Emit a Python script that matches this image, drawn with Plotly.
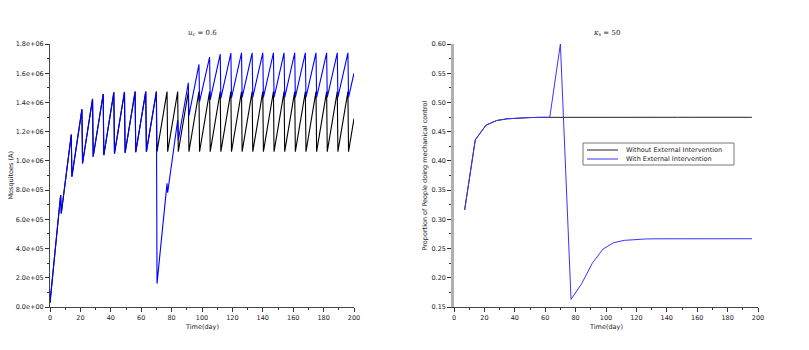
import plotly.graph_objects as go

# ---- left panel: mosquitoes (A), u_c = 0.6 ----
spray_days = [7 * k for k in range(1, 29)]  # 7, 14, ..., 196

a_start = 0.03e6
a_end_without = 1.29e6
a_end_with = 1.60e6

peaks_without = [0.767e6, 1.180e6, 1.353e6, 1.424e6, 1.458e6, 1.469e6, 1.472e6,
                 1.474e6, 1.474e6, 1.474e6, 1.474e6, 1.474e6, 1.474e6, 1.474e6,
                 1.474e6, 1.474e6, 1.474e6, 1.474e6, 1.474e6, 1.474e6, 1.474e6,
                 1.474e6, 1.474e6, 1.474e6, 1.474e6, 1.474e6, 1.474e6, 1.474e6]
troughs_without = [0.640e6, 0.892e6, 0.983e6, 1.029e6, 1.040e6, 1.050e6, 1.055e6,
                   1.060e6, 1.062e6, 1.063e6, 1.063e6, 1.063e6, 1.063e6, 1.063e6,
                   1.063e6, 1.063e6, 1.063e6, 1.063e6, 1.063e6, 1.063e6, 1.063e6,
                   1.063e6, 1.063e6, 1.063e6, 1.063e6, 1.063e6, 1.063e6, 1.063e6]

peaks_with = [0.767e6, 1.180e6, 1.353e6, 1.424e6, 1.458e6, 1.469e6, 1.472e6,
              1.474e6, 1.474e6, 1.474e6, 0.846e6, 1.280e6, 1.535e6, 1.660e6,
              1.710e6, 1.730e6, 1.738e6, 1.740e6, 1.740e6, 1.740e6, 1.740e6,
              1.740e6, 1.740e6, 1.740e6, 1.740e6, 1.740e6, 1.740e6, 1.740e6]
troughs_with = [0.640e6, 0.892e6, 0.983e6, 1.029e6, 1.040e6, 1.050e6, 1.055e6,
                1.060e6, 1.062e6, 0.160e6, 0.782e6, 1.140e6, 1.310e6, 1.405e6,
                1.417e6, 1.428e6, 1.432e6, 1.435e6, 1.435e6, 1.435e6, 1.435e6,
                1.435e6, 1.435e6, 1.435e6, 1.435e6, 1.435e6, 1.435e6, 1.435e6]

a_ticks = [0, 2e5, 4e5, 6e5, 8e5, 1e6, 1.2e6, 1.4e6, 1.6e6, 1.8e6]
a_tick_text = ["0.0e+00", "2.0e+05", "4.0e+05", "6.0e+05", "8.0e+05",
               "1.0e+06", "1.2e+06", "1.4e+06", "1.6e+06", "1.8e+06"]

# ---- right panel: proportion doing mechanical control, kappa_s = 50 ----
weeks = [7 * k for k in range(1, 29)]
p_without = [0.316, 0.436, 0.461, 0.469, 0.472, 0.4735, 0.474, 0.4745, 0.4746, 0.4746,
             0.4746, 0.4746, 0.4746, 0.4746, 0.4746, 0.4746, 0.4746, 0.4746, 0.4746,
             0.4746, 0.4746, 0.4746, 0.4746, 0.4746, 0.4746, 0.4746, 0.4746, 0.4746]
p_with = [0.316, 0.436, 0.461, 0.469, 0.472, 0.4735, 0.474, 0.4745, 0.4746, 0.600,
          0.163, 0.190, 0.225, 0.249, 0.260, 0.264, 0.2658, 0.2664, 0.2667, 0.2668,
          0.2668, 0.2668, 0.2668, 0.2668, 0.2668, 0.2668, 0.2668, 0.2668]

legend_names = ["Without External Intervention", "With External Intervention"]
legend_colors = ["#222222", "#3535ff"]


def sawtooth(start, peaks, troughs, end):
    # drop happens right after each spray day
    xs, ys = [0], [start]
    for d, pk, tr in zip(spray_days, peaks, troughs):
        xs += [d, d + 0.4]
        ys += [pk, tr]
    xs.append(200)
    ys.append(end)
    return xs, ys


FONT = "DejaVu Sans"
FS = 6.5
OFF = 8  # page body margin
W, H = 809 - OFF, 350 - OFF


# screen pixel -> paper fraction
def px(x):
    return (x - OFF) / W


def py(y):
    return 1 - (y - OFF) / H


fig = go.Figure()

x_wo, y_wo = sawtooth(a_start, peaks_without, troughs_without, a_end_without)
x_w, y_w = sawtooth(a_start, peaks_with, troughs_with, a_end_with)

fig.add_trace(go.Scatter(x=x_wo, y=y_wo, mode="lines", line=dict(color="black", width=1.1),
                         showlegend=False, xaxis="x", yaxis="y"))
fig.add_trace(go.Scatter(x=x_w, y=y_w, mode="lines", line=dict(color="#0000ff", width=1.1),
                         showlegend=False, xaxis="x", yaxis="y"))

fig.add_trace(go.Scatter(x=weeks, y=p_without, mode="lines", name=legend_names[0],
                         line=dict(color=legend_colors[0], width=1), showlegend=False,
                         xaxis="x2", yaxis="y2"))
fig.add_trace(go.Scatter(x=weeks, y=p_with, mode="lines", name=legend_names[1],
                         line=dict(color=legend_colors[1], width=1), showlegend=False,
                         xaxis="x2", yaxis="y2"))

ydom = [py(307), py(44)]

txt = dict(family=FONT, size=FS, color="#222222")
serif = dict(family="DejaVu Serif", size=7, color="#222222")

axis_common = dict(
    ticks="outside",
    ticklen=4,
    tickcolor="#333333",
    tickfont=txt,
    showgrid=False,
    zeroline=False,
    showline=True,
    linecolor="#444444",
    linewidth=1,
    automargin=False,
)

# compact legend box drawn by hand
shapes = [dict(type="rect", xref="paper", yref="paper", x0=px(583), x1=px(734), y0=py(165), y1=py(143),
               line=dict(color="#777777", width=1), fillcolor="white", layer="above")]
annotations = [
    dict(text="<i>u</i><sub>c</sub> = 0.6", x=px(202), y=py(33), font=serif),
    dict(text="<i>κ</i><sub>s</sub> = 50", x=px(606), y=py(33), font=serif),
    dict(text="Time(day)", x=px(202), y=py(327), font=txt),
    dict(text="Time(day)", x=px(606), y=py(327), font=txt),
    dict(text="Mosquitoes (A)", x=px(11), y=py(175.5), textangle=-90, font=txt),
    dict(text="Proportion of People doing mechanical control", x=px(425), y=py(175.5),
         textangle=-90, font=txt),
]
for i, (name, col) in enumerate(zip(legend_names, legend_colors)):
    yy = 150 + 9 * i
    shapes.append(dict(type="line", xref="paper", yref="paper", x0=px(587), x1=px(618),
                       y0=py(yy), y1=py(yy), line=dict(color=col, width=1), layer="above"))
    annotations.append(dict(text=name, x=px(624), y=py(yy), xanchor="left", font=txt))

for a in annotations:
    a.update(xref="paper", yref="paper", showarrow=False)
    a.setdefault("xanchor", "center")
    a.setdefault("yanchor", "middle")

fig.update_layout(
    width=W,
    height=H,
    margin=dict(l=0, r=0, t=0, b=0),
    plot_bgcolor="white",
    paper_bgcolor="white",
    font=txt,
    showlegend=False,
    xaxis=dict(
        **axis_common,
        domain=[px(50), px(354)],
        range=[0, 200],
        tickvals=list(range(0, 201, 20)),
        minor=dict(ticks="outside", ticklen=2, dtick=10, tickcolor="#333333"),
        anchor="y",
    ),
    yaxis=dict(
        **axis_common,
        domain=ydom,
        range=[0, 1.8e6],
        tickvals=a_ticks,
        ticktext=a_tick_text,
        minor=dict(ticks="outside", ticklen=2, dtick=1e5, tickcolor="#333333"),
        anchor="x",
    ),
    xaxis2=dict(
        **axis_common,
        domain=[px(454), px(758)],
        range=[0, 200],
        tickvals=list(range(0, 201, 20)),
        minor=dict(ticks="outside", ticklen=2, dtick=10, tickcolor="#333333"),
        anchor="y2",
    ),
    yaxis2=dict(
        **{**axis_common, "linecolor": "#b0b0b0", "linewidth": 2.5},
        domain=ydom,
        range=[0.15, 0.6],
        tickvals=[0.15, 0.2, 0.25, 0.3, 0.35, 0.4, 0.45, 0.5, 0.55, 0.6],
        tickformat=".2f",
        minor=dict(ticks="outside", ticklen=2, dtick=0.025, tickcolor="#333333"),
        anchor="x2",
    ),
    shapes=shapes,
    annotations=annotations,
)

fig.write_html("out.html")
